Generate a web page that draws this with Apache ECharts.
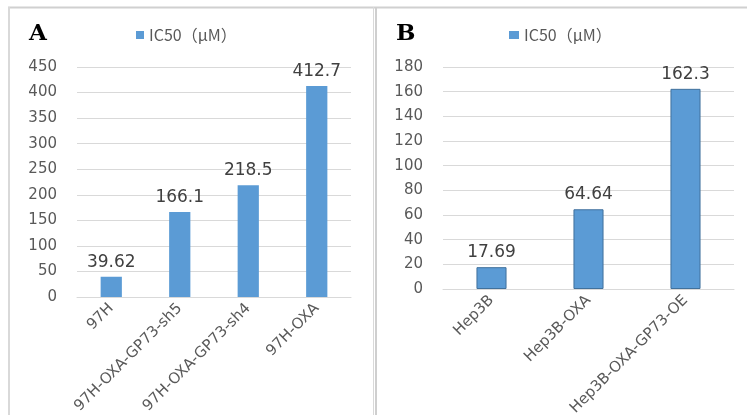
<!DOCTYPE html>
<html>
<head>
<meta charset="utf-8">
<script src="https://cdn.jsdelivr.net/npm/echarts@6/dist/echarts.min.js"></script>
<style>
html,body{margin:0;padding:0;background:#fff;}
#c{width:747px;height:415px;}
</style>
</head>
<body>
<div id="c"></div>
<script>
var seriesName = 'IC50（μM）';
var categoriesA = ['97H', '97H-OXA-GP73-sh5', '97H-OXA-GP73-sh4', '97H-OXA'];
var valuesA = [39.62, 166.1, 218.5, 412.7];
var labelsA = ['39.62', '166.1', '218.5', '412.7'];
var categoriesB = ['Hep3B', 'Hep3B-OXA', 'Hep3B-OXA-GP73-OE'];
var valuesB = [17.69, 64.64, 162.3];
var labelsB = ['17.69', '64.64', '162.3'];
var yMaxA = 450, yStepA = 50;
var yMaxB = 180, yStepB = 20;

var FONT = 'DejaVu Sans, Noto Sans CJK SC, sans-serif';
var LFONT = 'Noto Sans CJK SC, DejaVu Sans, sans-serif';
var chart = echarts.init(document.getElementById('c'), null, {renderer: 'canvas'});

function xAxis(idx, cats) {
  return {
    type: 'category', gridIndex: idx, data: cats,
    axisLine: {show: true, lineStyle: {color: '#d9d9d9', width: 1}},
    axisTick: {show: false},
    axisLabel: {rotate: 45, color: '#595959', fontSize: 15, fontFamily: FONT, margin: 9, interval: 0}
  };
}
function yAxis(idx, max, step) {
  return {
    type: 'value', gridIndex: idx, min: 0, max: max, interval: step,
    axisLine: {show: false}, axisTick: {show: false},
    splitLine: {lineStyle: {color: '#d9d9d9', width: 1}},
    axisLabel: {color: '#595959', fontSize: 15, fontFamily: FONT, margin: 20}
  };
}

chart.setOption({
  animation: false,
  backgroundColor: '#ffffff',
  title: [
    {text: 'A', left: 24, top: 18, textStyle: {fontFamily: 'DejaVu Serif, Liberation Serif, serif', fontWeight: 'bold', fontSize: 23, color: '#000'}},
    {text: 'B', left: 391, top: 18, textStyle: {fontFamily: 'DejaVu Serif, Liberation Serif, serif', fontWeight: 'bold', fontSize: 23, color: '#000'}}
  ],
  legend: [
    {left: 131, top: 22, data: [seriesName], icon: 'rect', itemWidth: 8, itemHeight: 8, itemGap: 4,
     textStyle: {color: '#595959', fontSize: 16, fontFamily: LFONT}, selectedMode: false},
    {left: 504, top: 22, data: [seriesName], icon: 'rect', itemWidth: 10, itemHeight: 8, itemGap: 4,
     textStyle: {color: '#595959', fontSize: 16, fontFamily: LFONT}, selectedMode: false}
  ],
  grid: [
    {left: 77, right: 396, top: 67, bottom: 118, containLabel: false, outerBoundsMode: 'none'},
    {left: 443, right: 13, top: 67, bottom: 126, containLabel: false, outerBoundsMode: 'none'}
  ],
  xAxis: [xAxis(0, categoriesA), xAxis(1, categoriesB)],
  yAxis: [yAxis(0, yMaxA, yStepA), yAxis(1, yMaxB, yStepB)],
  graphic: [
    {type: 'line', shape: {x1: 8, y1: 7.5, x2: 747, y2: 7.5}, style: {stroke: '#d0d0d0', lineWidth: 2}},
    {type: 'line', shape: {x1: 9, y1: 7, x2: 9, y2: 415}, style: {stroke: '#d9d9d9', lineWidth: 2}},
    {type: 'line', shape: {x1: 373.5, y1: 7, x2: 373.5, y2: 415}, style: {stroke: '#d9d9d9', lineWidth: 1}},
    {type: 'line', shape: {x1: 376, y1: 7, x2: 376, y2: 415}, style: {stroke: '#cfcfcf', lineWidth: 2}}
  ],
  series: [
    {
      name: seriesName, type: 'bar', xAxisIndex: 0, yAxisIndex: 0, data: valuesA,
      barWidth: '31%',
      itemStyle: {color: '#5B9BD5'},
      label: {show: true, position: 'top', distance: 6, color: '#404040', fontSize: 17, fontFamily: FONT,
              formatter: function (p) { return labelsA[p.dataIndex]; }}
    },
    {
      name: seriesName, type: 'bar', xAxisIndex: 1, yAxisIndex: 1, data: valuesB,
      barWidth: '31%',
      itemStyle: {color: '#5B9BD5', borderColor: '#41719C', borderWidth: 1},
      label: {show: true, position: 'top', distance: 6, color: '#404040', fontSize: 17, fontFamily: FONT,
              formatter: function (p) { return labelsB[p.dataIndex]; }}
    }
  ]
});
</script>
</body>
</html>
